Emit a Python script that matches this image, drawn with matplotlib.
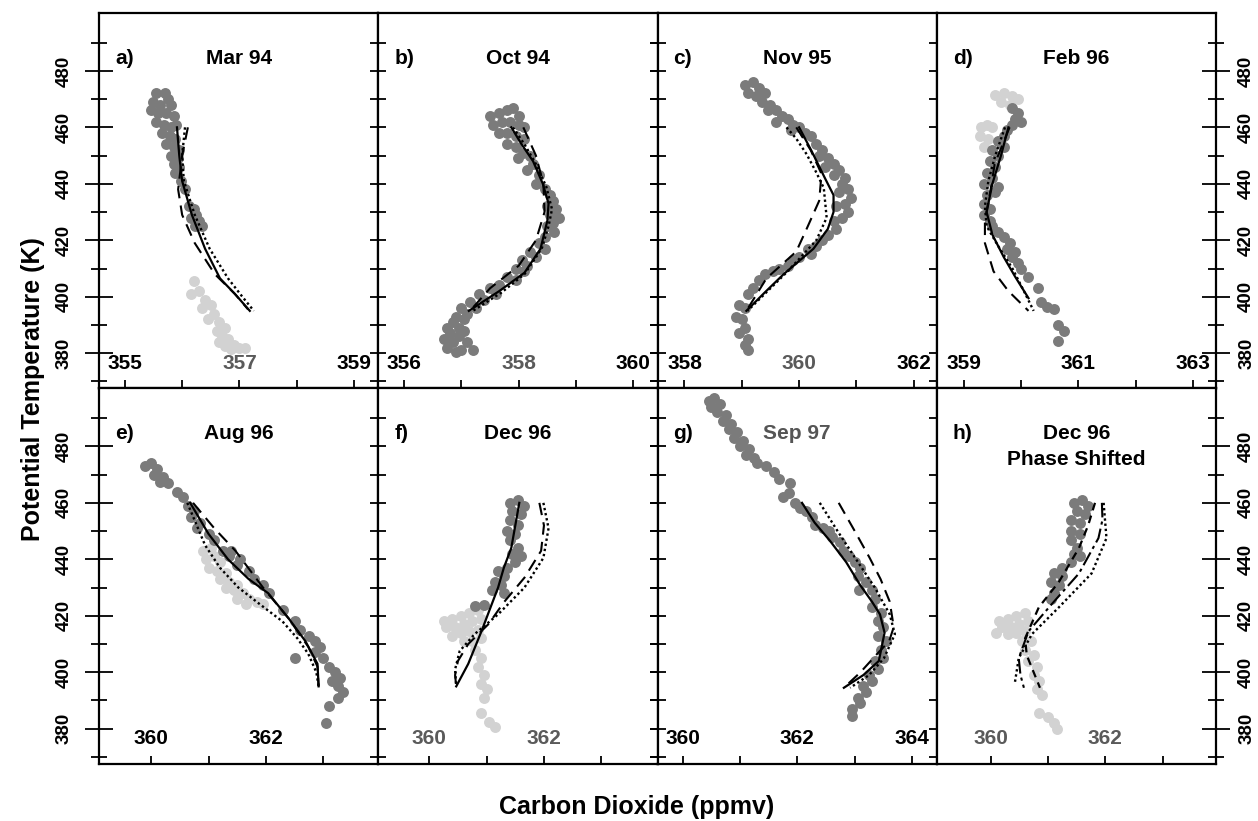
import matplotlib.pyplot as plt
from matplotlib.ticker import MultipleLocator, FixedLocator

plt.rcParams['font.family'] = ['Liberation Sans', 'DejaVu Sans']
plt.rcParams['font.weight'] = 'bold'

# ---- data: (CO2 ppmv, potential temperature K) ----
a_dark = [(355.55,472),(355.7,472),(355.75,470),(355.5,469),(355.62,468),(355.8,468),(355.45,466),
          (355.58,465),(355.72,465),(355.85,464),(355.55,462),(355.68,461),(355.8,460),(355.9,461),
          (355.65,458),(355.78,457),(355.88,456),(355.72,454),(355.85,453),(355.95,452),(355.8,450),
          (355.92,449),(355.85,447),(355.95,446),(355.88,444),(355.98,441),(356.05,438),(356.12,432),
          (356.2,431),(356.25,429),(356.15,428),(356.3,427),(356.22,425),(356.35,425)]
a_light = [(356.2,405.5),(356.15,401),(356.3,402),(356.4,399),(356.35,396),(356.5,397),(356.55,394),
           (356.45,392),(356.65,391),(356.6,388),(356.75,389),(356.7,386),(356.8,385),(356.65,384),
           (356.9,383),(357.0,382),(357.1,382),(356.85,381.5),(356.75,382.5)]
a_solid = [(355.91,460),(355.95,450),(356.0,441),(356.17,429),(356.4,417),(356.66,406.5),(356.92,401),(357.18,395)]
a_dotted = [(356.05,460),(356.0,450),(356.03,441),(356.22,429),(356.48,417),(356.8,406.5),(357.05,400),(357.25,395)]
a_dashed = [(356.1,460),(356.0,450),(355.93,438),(356.0,429),(356.22,419),(356.57,408),(356.92,401),(357.15,395.5)]

b_dark = [(357.5,464),(357.65,465),(357.8,466),(357.9,467),(358.0,464),(357.55,461),(357.7,462),(357.85,462),
          (358.0,461),(358.1,460),(357.65,458),(357.8,458),(357.95,457),(358.1,456),(357.8,454),(357.95,453),
          (358.08,451),(358.2,450),(357.98,449),(358.25,447),(358.15,445),(358.35,443),(358.3,440),(358.45,438),
          (358.55,436),(358.6,434),(358.5,432),(358.65,431),(358.55,429),(358.7,428),(358.6,426),(358.5,425),
          (358.62,423),(358.45,421),(358.35,419),(358.45,417),(358.2,416),(358.3,414),(358.05,413),(358.15,411),
          (357.95,410),(358.1,409),(357.8,407),(357.95,406),(357.65,404),(357.5,403),(357.6,401),(357.3,401),
          (357.4,399),(357.15,398),(357.25,396),(357.0,396),(357.1,394),(356.9,393),(357.05,392),(356.85,391),
          (356.95,389),(356.75,389),(357.05,388),(356.8,387),(356.95,386),(356.7,385),(357.1,384),(356.85,384),
          (356.75,382),(357.0,381),(357.2,381),(356.9,380.5)]
b_light = []
b_solid = [(357.87,460),(358.05,454),(358.25,448),(358.42,440),(358.52,433),(358.5,427),(358.38,417),
           (358.1,408.5),(357.66,402),(357.13,395)]
b_dotted = [(357.9,460),(358.1,454),(358.3,447),(358.48,439),(358.58,431),(358.52,425),(358.4,417),
            (358.1,408),(357.7,401.5),(357.2,395)]
b_dashed = [(358.08,460),(358.3,450),(358.43,440),(358.45,430),(358.3,420),(358.0,411),(357.5,403),(357.15,395)]

c_dark = [(359.05,475),(359.2,476),(359.3,474),(359.1,472),(359.25,471),(359.4,472),(359.35,469),(359.5,468),
          (359.45,466),(359.6,466),(359.7,464),(359.6,462),(359.8,463),(359.9,461),(360.0,460),(359.85,459),
          (360.1,458),(360.2,457),(360.3,454),(360.4,452),(360.35,450),(360.5,449),(360.6,447),(360.45,446),
          (360.7,445),(360.6,443),(360.8,442),(360.75,440),(360.85,438),(360.7,437),(360.9,435),(360.8,433),
          (360.65,432),(360.85,430),(360.75,428),(360.6,427),(360.65,424),(360.5,422),(360.4,420),(360.3,418),
          (360.15,417),(360.2,415),(360.0,414),(359.9,413),(359.8,411),(359.65,410),(359.55,409),(359.4,408),
          (359.3,406),(359.2,403),(359.1,401),(358.95,397),(359.05,396),(358.9,393),(359.0,392),
          (359.05,389),(358.95,387),(359.1,385),(359.05,383),(359.1,381)]
c_light = []
c_solid = [(360.0,460),(360.22,451.5),(360.45,442),(360.6,436),(360.6,430),(360.5,424),(360.25,417),
           (359.73,408),(359.4,401.5),(359.08,395)]
c_dotted = [(359.78,460),(359.95,456),(360.13,450.5),(360.3,444),(360.43,438.5),(360.48,428),(360.3,420),
            (359.8,409),(359.45,402),(359.1,395)]
c_dashed = [(359.95,460),(360.2,452),(360.39,443.5),(360.35,434),(360.13,424),(359.95,416),(359.43,406.5),(359.08,395)]

d_dark = [(359.85,467),(359.95,465),(359.9,463),(360.0,462),(359.85,461),(359.75,459),(359.7,457),(359.6,455),
          (359.7,453),(359.5,452),(359.6,450),(359.45,448),(359.55,446),(359.4,444),(359.5,442),(359.35,440),
          (359.6,439),(359.55,437),(359.4,436),(359.35,433),(359.45,431),(359.35,429),(359.45,427),(359.5,425),
          (359.6,423),(359.7,421),(359.8,419),(359.75,417),(359.9,416),(359.85,414),(359.95,412),(360.0,410),
          (360.13,407),(360.3,403),(360.35,398),(360.45,396.5),(360.57,395.5),(360.64,390),(360.75,388),(360.64,384.5)]
d_light = [(359.55,471.5),(359.7,472),(359.85,471),(359.95,470),(359.65,469),(359.8,468),(359.3,460),
           (359.4,461),(359.5,460),(359.28,457),(359.42,456),(359.35,453)]
d_solid = [(359.78,460),(359.65,450),(359.5,440),(359.4,430),(359.5,422),(359.7,414),(359.9,407),(360.13,399.5)]
d_dotted = [(359.72,460),(359.55,450),(359.43,441),(359.37,432),(359.4,425),(359.6,418),(359.85,410),(360.05,402),(360.22,395)]
d_dashed = [(359.8,460),(359.54,447),(359.47,438),(359.37,427),(359.37,419),(359.52,409),(359.78,402),(360.13,395)]

e_dark = [(359.9,473),(360.0,474),(360.1,472),(360.05,470),(360.2,469),(360.3,467),(360.15,467.5),(360.45,464),
          (360.55,462),(360.65,459),(360.75,457),(360.7,455),(360.85,453),(360.8,451),(361.0,449),(361.1,447),
          (361.25,443),(361.4,443),(361.35,441),(361.55,440),(361.5,438),(361.7,436),(361.8,433),(361.95,431),
          (362.05,428),(362.3,422),(362.5,418),(362.6,415),(362.75,413),(362.85,411),(362.95,409),(362.85,407),
          (362.5,405),(363.0,405),(363.1,402),(363.2,400),(363.3,398),(363.15,397),(363.25,395),(363.35,393),
          (363.25,391),(363.1,388),(363.05,382)]
e_light = [(360.9,443),(361.05,444),(360.95,440),(361.1,441),(361.2,439),(361.0,437),(361.15,436),(361.3,435),
           (361.2,433),(361.35,432),(361.5,431),(361.3,430),(361.45,429),(361.6,428),(361.5,426),(361.7,426),
           (361.85,425),(361.65,424),(361.95,424)]
e_solid = [(360.68,460),(361.0,449),(361.34,440),(361.7,433),(362.04,428),(362.4,419),(362.69,411),(362.9,403),(362.92,395)]
e_dashed = [(360.73,460),(361.1,451),(361.47,443),(361.95,430),(362.4,419),(362.74,409),(362.9,402),(362.92,395)]
e_dotted = [(360.63,460),(360.94,445),(361.2,437),(361.52,430),(361.9,424),(362.29,418),(362.55,412),
            (362.74,406.5),(362.88,400),(362.92,395)]

f_dark = [(361.4,460),(361.55,461),(361.65,459),(361.45,457),(361.6,456),(361.4,454),(361.55,452),(361.35,450),
          (361.5,449),(361.4,447),(361.55,444),(361.45,442),(361.6,441),(361.5,439),(361.35,437),(361.2,436),
          (361.3,434),(361.15,432),(361.25,431),(361.1,429),(361.3,428),(360.8,423.5),(360.95,423.8)]
f_light = [(360.25,418),(360.4,419),(360.55,420),(360.7,421),(360.85,422),(360.3,416),(360.45,416),(360.6,417),
           (360.75,418),(360.9,419),(360.4,413),(360.55,414),(360.7,414.5),(360.85,415),(360.6,411),(360.75,411),
           (360.9,412),(360.8,408),(360.9,405),(360.85,402),(360.95,399),(360.9,396),(361.0,394),(360.95,391),
           (360.9,385.5),(361.05,382.5),(361.15,380.5)]
f_solid = [(361.57,460),(361.5,452),(361.43,444),(361.3,437),(361.2,430),(361.05,422),(360.91,414.5),
           (360.8,409),(360.68,403),(360.47,395)]
f_dashed = [(361.92,460),(362.0,452),(361.95,443),(361.66,433.5),(361.31,425),(361.03,417),(360.68,410),
            (360.5,404),(360.45,399),(360.47,395)]
f_dotted = [(361.99,460),(362.08,451),(361.99,440.5),(361.66,430),(361.2,420.5),(360.79,413.5),(360.53,407.5),
            (360.45,401),(360.47,395)]

g_dark = [(360.45,496),(360.55,497),(360.5,494),(360.65,495),(360.6,492),(360.75,491),(360.7,489),(360.85,488),
          (360.8,486),(360.95,485),(360.9,483),(361.05,482),(361.0,480),(361.15,479),(361.1,477),(361.25,476),
          (361.3,474),(361.45,473),(361.6,471),(361.68,468.5),(361.87,467),(361.85,463.5),(361.75,462),(361.95,460),
          (362.05,458),(362.15,457),(362.25,455),(362.3,452),(362.45,451),(362.55,450),(362.6,448),(362.75,446),
          (362.8,443),(362.9,441),(363.0,439),(363.1,437),(363.05,434),(363.2,432),(363.07,429),(363.3,429),
          (363.35,426),(363.3,423),(363.45,421),(363.4,418),(363.5,416),(363.4,413),(363.55,411),(363.45,408),
          (363.5,405),(363.35,404),(363.4,401),(363.25,399),(363.3,397),(363.15,395),(363.2,393),(363.05,391),
          (363.1,389),(362.95,387),(362.95,384.5)]
g_light = []
g_solid = [(362.08,460),(362.3,453),(362.57,446.5),(362.85,439),(363.09,431),(363.3,425),(363.44,420.5),
           (363.52,414),(363.42,404),(363.15,399),(362.81,394.5)]
g_dotted = [(362.39,460),(362.7,450),(363.04,439.5),(363.35,430),(363.61,420.5),(363.7,413.5),(363.51,405),
            (363.25,399),(362.92,394.5)]
g_dashed = [(362.72,460),(363.0,450),(363.26,440.5),(363.45,433),(363.61,425),(363.68,416),(363.6,411),
            (363.39,406.5),(363.1,400),(362.81,394.5)]

h_dark = [(361.45,460),(361.6,461),(361.7,459),(361.5,457),(361.65,456),(361.4,454),(361.55,453),(361.4,450),
          (361.55,449),(361.4,447),(361.5,444),(361.45,442),(361.55,441),(361.4,439),(361.25,437),(361.1,435),
          (361.25,434),(361.05,432),(361.2,431),(361.1,428),(361.05,426)]
h_light = [(360.15,418),(360.3,419),(360.45,420),(360.6,421),(360.2,416),(360.35,416),(360.5,417),(360.65,418),
           (360.1,414),(360.3,413.5),(360.45,414),(360.6,414.5),(360.55,411),(360.7,411),(360.6,408),(360.75,406),
           (360.65,404),(360.8,402),(360.75,399),(360.85,397),(360.8,394),(360.9,392),(360.85,385.5),(361.0,384),
           (361.1,382),(361.15,380)]
h_short = [(361.82,460),(361.7,452),(361.54,444),(361.19,432),(360.84,423),(360.6,412),(360.63,406),(360.86,394.5)]
h_dashdot = [(361.94,460),(361.95,454),(361.88,447.5),(361.54,435),(361.06,424),(360.66,414.5),(360.49,405),
             (360.52,399),(360.58,394.5)]
h_dotted = [(361.97,460),(362.02,447.5),(361.76,435),(361.19,423),(360.72,413.5),(360.49,405),(360.42,396)]

labels = ['a)', 'b)', 'c)', 'd)', 'e)', 'f)', 'g)', 'h)']
titles = ['Mar 94', 'Oct 94', 'Nov 95', 'Feb 96', 'Aug 96', 'Dec 96', 'Sep 97', 'Dec 96\nPhase Shifted']
xtick_labels = [[355, 357, 359], [356, 358, 360], [358, 360, 362], [359, 361, 363],
                [360, 362], [360, 362], [360, 362, 364], [360, 362]]
grey_labels = [[357], [358], [360], [], [], [360, 362], [], [360, 362]]
ytick_labels = [380, 400, 420, 440, 460, 480]
ytick_minor = [370, 390, 410, 430, 450, 470, 490]
x_start = [354.55, 355.55, 357.53, 358.53, 359.09, 359.11, 359.56, 359.06]
darks = [a_dark, b_dark, c_dark, d_dark, e_dark, f_dark, g_dark, h_dark]
lights = [a_light, b_light, c_light, d_light, e_light, f_light, g_light, h_light]
curves = [[(a_dashed, 'dashed'), (a_dotted, 'dotted'), (a_solid, 'solid')],
          [(b_dashed, 'dashed'), (b_dotted, 'dotted'), (b_solid, 'solid')],
          [(c_dashed, 'dashed'), (c_dotted, 'dotted'), (c_solid, 'solid')],
          [(d_dashed, 'dashed'), (d_dotted, 'dotted'), (d_solid, 'solid')],
          [(e_dashed, 'dashed'), (e_dotted, 'dotted'), (e_solid, 'solid')],
          [(f_dashed, 'dashed'), (f_dotted, 'dotted'), (f_solid, 'solid')],
          [(g_dashed, 'dashed'), (g_dotted, 'dotted'), (g_solid, 'solid')],
          [(h_short, 'short'), (h_dashdot, 'dashdot'), (h_dotted, 'dotted')]]

styles = {'solid': dict(ls='-', lw=1.6),
          'dashed': dict(ls=(0, (6, 3.5)), lw=1.5),
          'dotted': dict(ls=(0, (1, 1.2)), lw=1.7),
          'short': dict(ls=(0, (3.5, 2.5)), lw=1.6),
          'dashdot': dict(ls=(0, (7, 2, 1.5, 2)), lw=1.5)}

DARK = '#7b7b7b'
LIGHT = '#d2d2d2'

fig = plt.figure(figsize=(12.58, 8.21), dpi=100)
gs = fig.add_gridspec(2, 4, left=99/1258, right=1216/1258, top=1-13/821, bottom=1-764/821,
                      hspace=0, wspace=0)

for i in range(8):
    r, c = divmod(i, 4)
    ax = fig.add_subplot(gs[r, c])
    if lights[i]:
        x, y = zip(*lights[i])
        ax.scatter(x, y, s=62, color=LIGHT, lw=0, zorder=1)
    x, y = zip(*darks[i])
    ax.scatter(x, y, s=62, color=DARK, lw=0, zorder=2)
    for pts, st in curves[i]:
        x, y = zip(*pts)
        ax.plot(x, y, color='black', zorder=3, **styles[st])

    ax.set_xlim(x_start[i], x_start[i] + 4.87)
    ax.set_ylim(367.5, 500.5)
    for sp in ax.spines.values():
        sp.set_linewidth(1.6)

    ax.xaxis.set_major_locator(FixedLocator(xtick_labels[i]))
    ax.xaxis.set_minor_locator(MultipleLocator(1))
    ax.set_xticklabels([str(t) for t in xtick_labels[i]])
    ax.tick_params(axis='x', which='both', direction='in', length=6, width=1.3,
                   top=False, pad=-25, labelsize=15)
    for t, v in zip(ax.get_xticklabels(), xtick_labels[i]):
        if v in grey_labels[i]:
            t.set_color('#5a5a5a')

    ax.yaxis.set_major_locator(FixedLocator(ytick_labels))
    ax.yaxis.set_minor_locator(FixedLocator(ytick_minor))
    ax.tick_params(axis='y', which='both', direction='inout', length=11, width=1.3,
                   left=True, right=True, labelleft=False, labelright=False)
    if c == 0:
        ax.tick_params(axis='y', which='major', length=20, right=False, labelleft=True,
                       labelrotation=90, pad=9, labelsize=13.5)
        ax.tick_params(axis='y', which='minor', length=12, right=False)
        for t in ax.get_yticklabels():
            t.set_va('center')
    if c == 3:
        ax.tick_params(axis='y', which='major', length=20, left=False, labelright=True,
                       labelrotation=90, pad=6, labelsize=13.5)
        ax.tick_params(axis='y', which='minor', length=12, left=False)
        for t in ax.get_yticklabels():
            t.set_va('center')

    ax.text(0.057, 0.88, labels[i], transform=ax.transAxes, fontsize=15, va='center', ha='left')
    tcol = '#555555' if labels[i] == 'g)' else 'black'
    if '\n' in titles[i]:
        l1, l2 = titles[i].split('\n')
        ax.text(0.5, 0.88, l1, transform=ax.transAxes, fontsize=15, va='center', ha='center')
        ax.text(0.5, 0.81, l2, transform=ax.transAxes, fontsize=15, va='center', ha='center')
    else:
        ax.text(0.5, 0.88, titles[i], transform=ax.transAxes, fontsize=15, va='center',
                ha='center', color=tcol)

fig.text(0.026, 0.526, 'Potential Temperature (K)', rotation=90, fontsize=18,
         ha='center', va='center')
fig.text(0.506, 0.017, 'Carbon Dioxide (ppmv)', fontsize=18, ha='center', va='center')

fig.savefig('out.png', dpi=100)
